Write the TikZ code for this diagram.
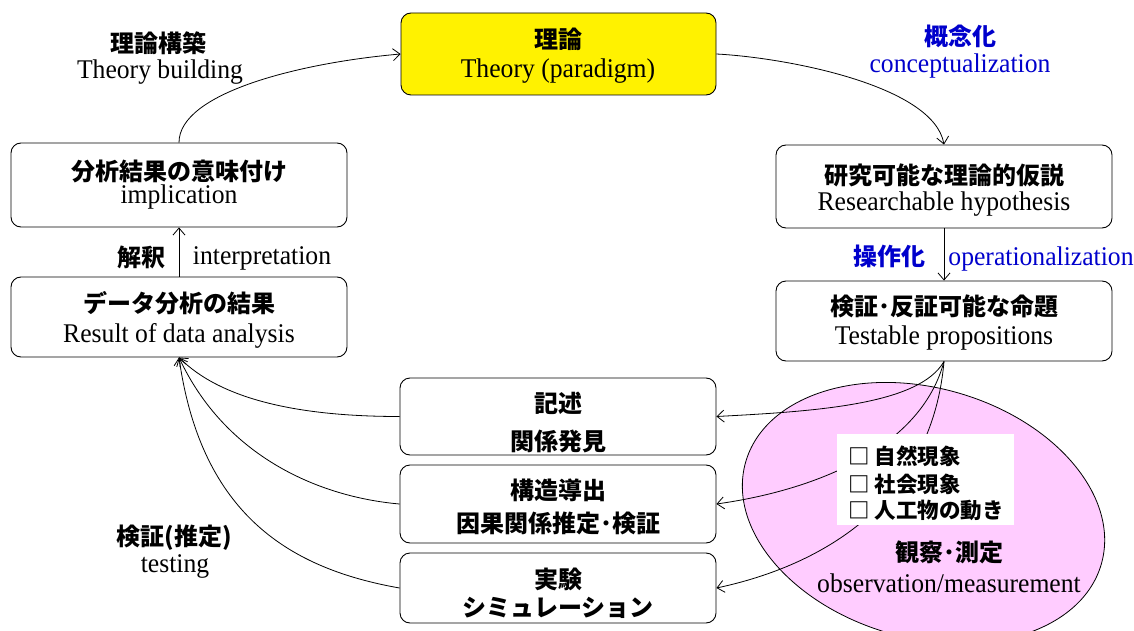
\documentclass[tikz,border=0pt]{standalone}
\usepackage{fontspec}
\setmainfont{Liberation Serif}[FakeStretch=0.95]
\newfontfamily\jp{Noto Sans CJK JP}
\usetikzlibrary{arrows.meta,shapes.geometric}
\definecolor{jblue}{RGB}{0,0,204}
\definecolor{pinkfill}{RGB}{255,204,255}
\begin{document}
\begin{tikzpicture}[x=1pt,y=1pt,
  box/.style={draw, rounded corners=10pt, line width=0.9pt, inner sep=0pt},
  jt/.style={font=\jp\bfseries\fontsize{24}{28}\selectfont, anchor=base, inner sep=0pt},
  jc/.style={font=\jp\bfseries\fontsize{21.5}{26}\selectfont, anchor=base west, inner sep=0pt},
  et/.style={font=\fontsize{27}{30}\selectfont, anchor=base, inner sep=0pt},
  arr/.style={line width=0.8pt, -{Straight Barb[length=7pt,width=12pt]}},
]
\useasboundingbox (0,0) rectangle (1134,-631);
\clip (0,0) rectangle (1134,-631);
\fill[white] (0,0) rectangle (1134,-631);

% boxes
\node[box, fill=yellow, minimum width=315pt, minimum height=82pt] (theory) at (558.5,-54) {};
\node[box, minimum width=336pt, minimum height=84pt] (impl) at (179,-185) {};
\node[box, minimum width=336pt, minimum height=80pt] (res) at (179,-317) {};
\node[box, minimum width=336pt, minimum height=83pt] (rsch) at (944,-186.5) {};
\node[box, minimum width=336pt, minimum height=80pt] (test) at (944,-321) {};
\node[box, minimum width=316pt, minimum height=77pt] (b1) at (558,-416.5) {};
\node[box, minimum width=316pt, minimum height=78pt] (b2) at (558,-504) {};
\node[box, minimum width=316pt, minimum height=70pt] (b3) at (558,-588) {};

% ellipse
\node[ellipse, draw, fill=pinkfill, line width=0.8pt, inner sep=0pt,
      minimum width=370pt, minimum height=250pt, rotate=-16] (obs) at (923.5,-513) {};

% connectors
\draw[arr] (impl.north) to[out=90, in=185, out distance=50pt, in distance=100pt] (theory.west);
\draw[arr] (theory.east) to[out=-3, in=100, out distance=70pt, in distance=60pt] (rsch.north);
\draw[arr] (res.north) -- (impl.south);
\draw[arr] (rsch.south) -- (test.north);

\draw[arr] (test.south) to[out=-120, in=3, out distance=50pt, in distance=100pt] (b1.east);
\draw[arr] (test.south) to[out=-105, in=8, out distance=90pt, in distance=100pt] (b2.east);
\draw[arr] (test.south) to[out=-95, in=12, out distance=140pt, in distance=110pt] (b3.east);

\draw[arr] (b1.west) to[out=180, in=-45, out distance=100pt, in distance=60pt] (res.south);
\draw[arr] (b2.west) to[out=175, in=-65, out distance=80pt, in distance=110pt] (res.south);
\draw[arr] (b3.west) to[out=170, in=-82, out distance=110pt, in distance=160pt] (res.south);

% checklist
\node[fill=white, inner sep=0pt, minimum width=177pt, minimum height=91pt] (chkbg) at (925,-479.5) {};
\node[jc] (chk1) at (848,-464) {□ 自然現象};
\node[jc] (chk2) at (848,-492) {□ 社会現象};
\node[jc] (chk3) at (848,-518.5) {□ 人工物の動き};

% texts
\node[jt] (theoryJ) at (558,-48.5) {理論};
\node[et] (theoryE) at (558,-78) {Theory (paradigm)};
\node[jt] (buildJ) at (158,-52.5) {理論構築};
\node[et] (buildE) at (160,-79) {Theory building};
\node[jt] (implJ) at (179,-180.5) {分析結果の意味付け};
\node[et] (implE) at (179,-203) {implication};
\node[jt] (interpJ) at (141,-266.5) {解釈};
\node[et] (interpE) at (262,-264) {interpretation};
\node[jt] (resJ) at (179,-312.5) {データ分析の結果};
\node[et] (resE) at (179,-342) {Result of data analysis};
\node[jt, text=jblue] (conJ) at (960,-45.5) {概念化};
\node[et, text=jblue] (conE) at (960,-73) {conceptualization};
\node[jt] (rsJ) at (944,-185) {研究可能な理論的仮説};
\node[et] (rsE) at (944,-210) {Researchable hypothesis};
\node[jt, text=jblue] (opJ) at (889,-265.5) {操作化};
\node[et, text=jblue] (opE) at (1041,-265) {operationalization};
\node[jt] (tsJ) at (944,-315.5) {検証･反証可能な命題};
\node[et] (tsE) at (944,-344) {Testable propositions};
\node[jt] (b1a) at (558,-412) {記述};
\node[jt] (b1b) at (558,-450.5) {関係発見};
\node[jt] (b2a) at (558,-499.5) {構造導出};
\node[jt] (b2b) at (558,-532.5) {因果関係推定･検証};
\node[jt] (b3a) at (558,-588.5) {実験};
\node[jt] (b3b) at (558,-616.5) {シミュレーション};
\node[jt] (tstJ) at (174,-545.5) {検証(推定)};
\node[et] (tstE) at (175,-572) {testing};
\node[jt] (obsJ) at (949,-561.5) {観察･測定};
\node[et] (obsE) at (949,-592) {observation/measurement};
\end{tikzpicture}
\end{document}
